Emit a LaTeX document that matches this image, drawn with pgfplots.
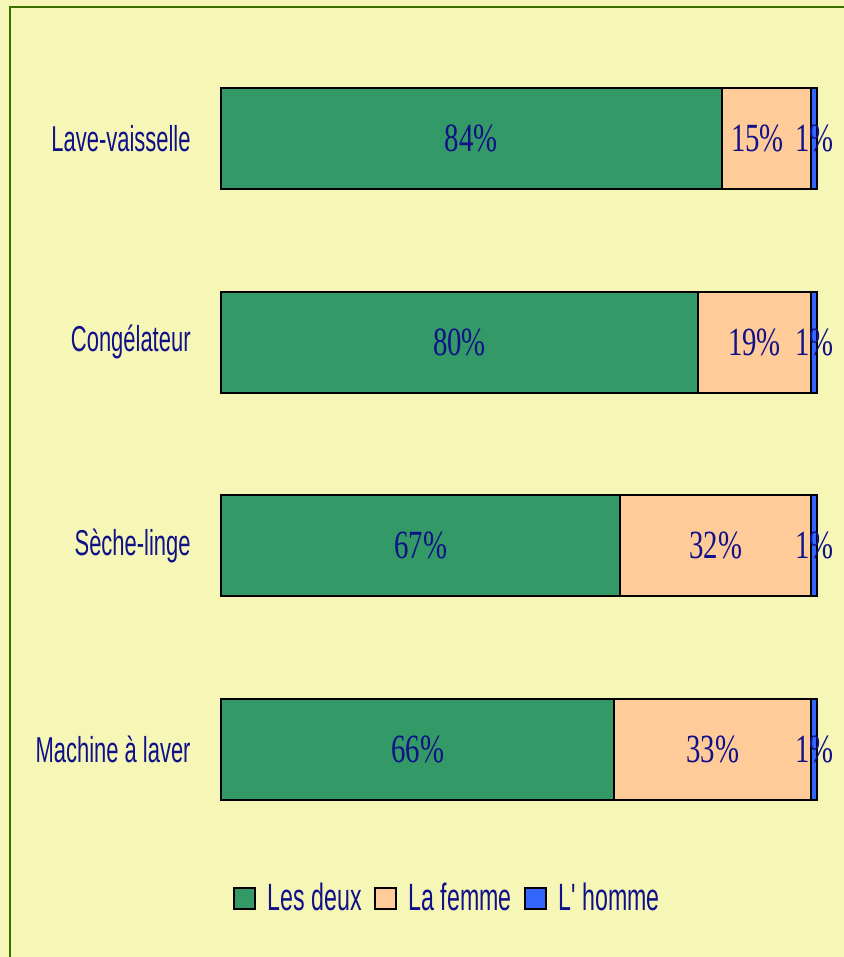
\documentclass[border=0pt]{standalone}
\usepackage{fontspec}
\setmainfont{Liberation Sans}[FakeStretch=0.61, Ligatures=TeXOff]
\newfontfamily\pctfont{Liberation Serif}[FakeStretch=0.72]
\usepackage{pgfplots}
\pgfplotsset{compat=1.18}
\definecolor{bg}{HTML}{F6F7B6}
\definecolor{frame}{HTML}{3D6E00}
\definecolor{txt}{HTML}{101088}
\definecolor{cGreen}{HTML}{339966}
\definecolor{cPeach}{HTML}{FFCC99}
\definecolor{cBlue}{HTML}{3366FF}
\pgfplotsset{common/.style={
  at={(110.5pt,53pt)}, anchor=south west,
  scale only axis, width=298pt, height=407pt,
  xmin=0, xmax=100, ymin=-0.5, ymax=3.5, clip=false}}
\begin{document}
\begin{tikzpicture}
\fill[bg] (0,0) rectangle (422pt,478.5pt);
\path[use as bounding box] (0,0) rectangle (422pt,478.5pt);
\draw[frame, line width=1pt] (5pt,0) -- (5pt,475pt) -- (423pt,475pt);
\begin{axis}[
  common,
  xbar stacked, bar width=50.5pt,
  axis line style={draw=none},
  xtick=\empty,
  ytick={0,1,2,3},
  yticklabels={Machine à laver, Sèche-linge, Congélateur, Lave-vaisselle},
  major tick length=0pt,
  yticklabel style={font=\fontsize{18}{20}\selectfont, text=txt, anchor=east, inner xsep=0pt, xshift=-15pt},
  legend style={at={(0.378,-0.058)}, anchor=center, draw=none, fill=none,
    legend columns=-1, font=\fontsize{19}{21}\selectfont, text=txt,
    nodes={inner xsep=0pt},
    /tikz/every even column/.append style={column sep=6pt},
    /tikz/every odd column/.append style={column sep=6pt},
    inner xsep=0pt},
  legend image code/.code={\draw[#1, draw=black, line width=1pt] (0pt,-5.2pt) rectangle (10.5pt,5.2pt);},
]
\addplot[fill=cGreen, draw=black, line width=1pt] coordinates {(66,0) (67,1) (80,2) (84,3)};
\addplot[fill=cPeach, draw=black, line width=1pt] coordinates {(33,0) (32,1) (19,2) (15,3)};
\addplot[fill=cBlue, draw=black, line width=1pt] coordinates {(1,0) (1,1) (1,2) (1,3)};
\legend{Les deux, La femme, L' homme}
\end{axis}
\begin{axis}[common, hide axis]
\addplot[only marks, mark=none, nodes near coords={\pgfplotspointmeta\%},
  point meta=explicit symbolic,
  nodes near coords style={anchor=center, inner sep=0pt, text=txt, font=\pctfont\fontsize{20}{22}\selectfont}]
  table[meta=l] {
x    y  l
33   0  66
82.5 0  33
99.6 0  1
33.5 1  67
83   1  32
99.6 1  1
40   2  80
89.5 2  19
99.6 2  1
42   3  84
90   3  15
99.6 3  1
};
\end{axis}
\end{tikzpicture}
\end{document}
